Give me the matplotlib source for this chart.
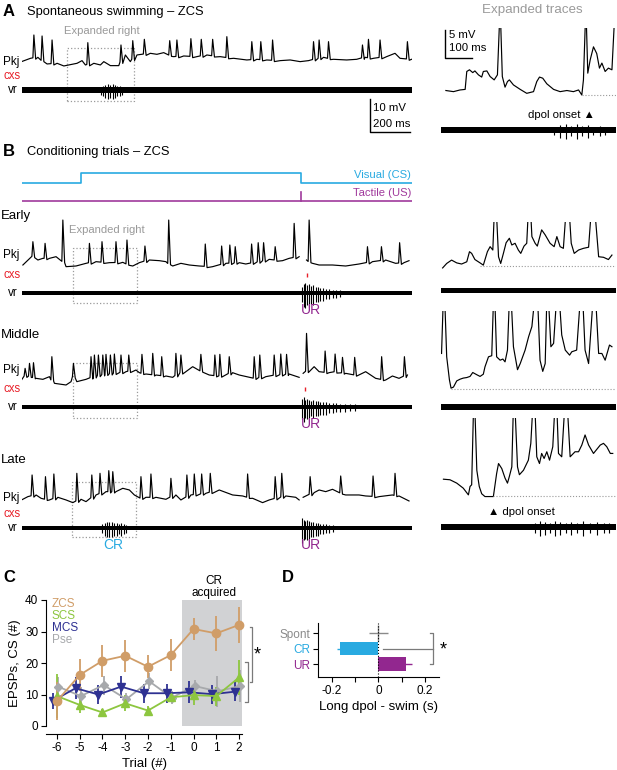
import numpy as np
import matplotlib
matplotlib.use("Agg")
import matplotlib.pyplot as plt
from matplotlib.patches import Rectangle

plt.rcParams['font.family'] = ['Liberation Sans', 'DejaVu Sans']
plt.rcParams['axes.unicode_minus'] = False

W, H = 617, 770

CYAN = '#29aae1'
PURPLE = '#92278f'
TACT = '#a0399c'
RED = '#e8202a'
GREY = '#9a9a9a'
ZCS_C = '#d09d68'
SCS_C = '#8dc63f'
MCS_C = '#2e3192'
PSE_C = '#a7a9ac'

# ---------------- traces (ms, mV) ----------------
# A: spontaneous swimming, Pkj
a_base_t = [0, 45, 82, 128, 178, 212, 278, 303, 320, 362, 395, 412, 445, 487, 520, 545, 578, 645, 678, 712,
            762, 812, 878, 928, 995, 1062, 1128, 1178, 1228, 1295, 1345, 1395, 1437, 1512, 1562, 1628, 1678,
            1720, 1762, 1828, 1870, 1895, 1953]
a_base_v = [0.5, 1.5, 1.8, -0.2, 0, -0.8, 0, 0.8, -0.5, 0, -0.5, 0.5, -0.7, -0.7, 2.5, 0.5, 2.5, 3.0, 2.7, 3.2,
            2.0, 2.2, 2.0, 2.5, 2.0, 1.5, 1.0, 1.2, 1.0, 0.8, 1.0, 0.5, 0.8, 1.8, 1.2, 1.0, 1.2,
            1.8, 1.5, 2.0, 3.0, 1.5, 1.2]
a_spk_t = [62, 103, 153, 332, 498, 557, 615, 742, 778, 848, 900, 957, 1028, 1153, 1198, 1257, 1462, 1490,
           1537, 1707, 1737, 1795, 1932]
a_spk_v = [8.5, 8.2, 7.0, 6.2, 5.5, 6.8, 7.2, 6.8, 7.0, 7.4, 7.2, 7.2, 8.0, 6.5, 6.5, 7.0, 6.5, 7.0,
           6.5, 5.5, 7.2, 7.0, 6.5]

# B: early trial
e_base_t = [7, 48, 82, 107, 140, 173, 198, 223, 273, 323, 373, 440, 507, 557, 590, 640, 690, 723, 757, 798,
            840, 890, 957, 1023, 1090, 1123, 1190, 1240, 1307, 1340, 1390,
            1427, 1457, 1490, 1557, 1623, 1690, 1757, 1823, 1873, 1915, 1940]
e_base_v = [0, 3, 1.5, 2, 2, 2.5, 2, -0.5, -0.3, 0.5, 1, 0.7, 0.8, -0.3, 0.7, 1.5, 1.3, 1, -0.3, 0.5,
            0, -0.3, -0.5, 0.5, 0.7, 0.3, 1, 1.7, 1.3, 2, 2.5,
            1.5, 0.5, 0, 0, -0.3, 0.3, 1, 1.5, 0.5, 0.7, 1.3]
e_spk_t = [57, 118, 207, 340, 403, 473, 528, 618, 737, 920, 1002, 1043, 1070, 1152, 1185, 1212, 1270, 1365,
           1440, 1732, 1802, 1893]
e_spk_v = [7, 6.5, 13.5, 6.5, 7, 7, 7.5, 5.7, 13.5, 6.3, 5.7, 6, 5.5, 6.3, 6.7, 6.7, 5.5, 12.5,
           13.5, 5.5, 5.5, 6.7]

# B: middle trial
m_base_t = [0, 23, 73, 107, 140, 165, 223, 248, 260, 277, 323, 390, 457, 523, 573, 590, 623, 673, 723, 757,
            807, 857, 890, 940, 990, 1057, 1090, 1157, 1223, 1273, 1340, 1390,
            1410, 1465, 1490, 1540, 1573, 1623, 1673, 1723, 1773, 1823, 1857, 1890, 1932]
m_base_v = [0, 1.5, 0.5, 0.2, 1.0, -1.0, -1.5, -0.5, 1.0, -0.5, 0.2, 1.5, 2.0, 2.5, 3.0, 2.2, 1.8, 1.5, 1.2, 0.8,
            2.5, 4.0, 3.0, 1.5, 1.2, 2.2, 1.5, 0.5, 1.0, 1.5, 1.8, 0.8,
            2.0, 4.0, 2.5, 2.2, 2.5, 2.0, 1.5, 2.5, 0.5, 0, 1.2, 0.5, 1.5]
m_spk_t = [18, 40, 60, 152, 260, 348, 365, 385, 407, 423, 445, 465, 498, 537, 603, 657, 702, 773, 798, 898,
           968, 993, 1040, 1165, 1193, 1265, 1298, 1327, 1427, 1520, 1570, 1607, 1668, 1803, 1917]
m_spk_v = [3.5, 5, 5.2, 7, 5, 7, 7.5, 7.5, 7.5, 7.7, 7.5, 7.8, 7.5, 7.5, 7.7, 8, 7, 8, 7.5, 7.7,
           7.5, 7.7, 7, 7, 7.5, 7.5, 7.8, 7.7, 14, 8.7, 7.8, 6.8, 6.8, 7, 7]

# B: late trial
l_base_t = [0, 32, 73, 98, 140, 182, 223, 257, 298, 323, 373, 423, 473, 507, 540, 565, 590, 623, 673, 723,
            773, 798, 848, 923, 990, 1057, 1107, 1157, 1207, 1240, 1323, 1373, 1390,
            1410, 1465, 1490, 1523, 1557, 1623, 1690, 1723, 1790, 1857, 1890, 1940]
l_base_v = [-0.5, 0.5, 1, 0, -0.5, 0.3, -0.5, -1.3, -0.3, -1, 1, 2, 2, 3, 2.5, 1, 0, 0.3, 0.3, -0.3,
            1, -0.5, 1, 1.5, 2.5, 1, 0.7, 0, -1.3, -0.5, 0.7, 0.3, -0.5,
            0.3, 1.7, 2.5, 2, 2.7, 1, 1, 0.7, 0.5, 1, 0.7, -0.8]
l_spk_t = [53, 120, 162, 277, 352, 393, 437, 457, 598, 648, 748, 828, 865, 902, 945, 1132, 1270, 1303,
           1445, 1598, 1760, 1870]
l_spk_v = [7, 6.5, 7.3, 7.5, 7, 7.5, 8.3, 8, 6.5, 7.3, 6, 7, 7.3, 7.3, 7.5, 7.3, 6.5, 7.5,
           6.5, 6.7, 6.7, 7.5]

# stimulus timing (ms)
cs_on, cs_off, us_t = 300, 1400, 1400
cxs_early, cxs_middle = 1430, 1420

# ventral root bursts (ms, relative amplitude)
vr_a_t = [400, 410, 420, 432, 444, 456, 468, 480, 492, 505]
vr_a_amp = [1.5, 2, 2.5, 3, 2.5, 3, 2.5, 2, 2, 1.5]
vr_e_t = [1403, 1412, 1421, 1430, 1440, 1450, 1461, 1472, 1484, 1496, 1510, 1524, 1540, 1557, 1575, 1595]
vr_e_amp = [3, 4.5, 5, 4, 4.5, 3.5, 4, 3, 3, 2.5, 2.5, 2, 2, 1.6, 1.5, 1.3]
vr_m_t = [1403, 1412, 1421, 1430, 1440, 1450, 1461, 1472, 1484, 1496, 1510, 1524, 1540, 1557, 1575, 1595,
          1620, 1645, 1670]
vr_m_amp = [4, 5, 3.5, 4, 3.5, 3, 3.5, 3, 3, 2.5, 2.5, 2.5, 2, 2, 1.8, 1.6, 1.5, 1.4, 1.3]
vr_l_t = [405, 417, 428, 440, 452, 464, 476, 488, 500, 512, 525,
          1403, 1412, 1421, 1430, 1440, 1450, 1461, 1472, 1484, 1496, 1510, 1524, 1540, 1560]
vr_l_amp = [1.8, 2.5, 3, 3, 3, 2.5, 2.5, 2, 2.5, 2, 1.5,
            5, 4, 3.5, 4, 3.5, 3, 3, 2.5, 2.5, 2, 2, 1.8, 1.5, 1.3]

# expanded traces (ms, mV)
xa_t = [18, 46, 70, 89, 95, 105, 117, 125, 138, 150, 156, 169, 181, 196, 208, 218, 226, 236, 245, 252,
        267, 292, 316, 341, 353, 363, 375, 390, 415, 439, 464, 488, 507, 519, 525, 534, 541, 550, 562, 574,
        584, 593, 605, 617, 630, 642]
xa_v = [0.8, 0.6, 0.9, 1.0, 4.2, 4.5, 4.0, 4.3, 3.6, 3.2, 4.2, 4.3, 3.3, 2.7, 3.6, 16, 3.3, 1.4, 2.4, 2.7,
        1.8, 1.0, 0.3, 0.6, 2.4, 3.2, 3.0, 2.0, 1.0, 0.6, 0.8, 0.6, 0.9, 0, 2.7, 16, 3.9, 6.3, 8.6, 7.4,
        4.8, 5.7, 4.2, 4.8, 4.5, 16]
xe_t = [6, 21, 39, 58, 76, 95, 105, 113, 125, 144, 156, 171, 181, 191, 200, 212, 220, 230, 240, 252,
        261, 273, 285, 294, 306, 316, 326, 335, 347, 355, 371, 384, 402, 417, 427, 439, 451, 467, 480, 491,
        507, 525, 544, 560, 581, 599, 617, 630]
xe_v = [-0.4, 0.4, 1.0, 0.5, 0.3, 0.7, 2.5, 2.2, 1.1, 0.5, 0.1, 2.5, 3.4, 2.8, 14, 1.6, 0.4, 2.2, 4.1, 4.9,
        3.7, 4.0, 2.8, 2.2, 3.5, 4.0, 14, 5.2, 4.0, 3.5, 6.4, 5.5, 4.0, 3.4, 5.2, 3.4, 3.1, 14, 4.0, 2.2,
        2.8, 3.1, 3.3, 14, 1.6, 1.5, 1.1, 1.9]
xm_t = [2, 11, 21, 31, 37, 46, 58, 70, 82, 95, 107, 117, 132, 144, 156, 162, 175, 187, 196, 205,
        218, 228, 236, 245, 255, 267, 282, 292, 310, 323, 335, 353, 365, 375, 384, 392, 405, 415, 431, 445,
        458, 474, 482, 500, 519, 531, 544, 566, 581, 593, 605, 621, 630]
xm_v = [6.4, 20, 5.8, 1.7, 0.2, 0.4, 1.5, 1.8, 2.0, 2.1, 2.3, 3.0, 2.6, 2.3, 2.7, 4.0, 5.8, 6.0, 20, 5.8,
        5.2, 5.4, 4.9, 7.0, 20, 7.6, 3.5, 4.6, 7.0, 9.4, 11.2, 20, 5.2, 3.2, 4.6, 20, 7.6, 8.2, 20, 9.7,
        7.0, 6.1, 6.7, 7.0, 20, 7.0, 4.6, 20, 6.4, 6.4, 5.2, 7.9, 7.6]
xl_t = [9, 33, 58, 82, 101, 107, 113, 122, 132, 141, 150, 162, 193, 205, 212, 224, 236, 245, 252, 261,
        269, 282, 289, 304, 322, 331, 343, 353, 363, 371, 380, 390, 400, 412, 424, 433, 445, 461, 476, 494,
        507, 519, 531, 544, 562, 572, 587, 599, 611, 624, 633]
xl_v = [3.0, 2.9, 2.3, 1.4, 0.2, 1.7, 2.0, 20, 4.6, 1.7, 0.4, -0.1, -0.1, 4.0, 5.8, 4.9, 3.2, 2.3, 3.5, 5.2,
        20, 5.2, 3.8, 4.6, 6.4, 9.4, 20, 7.0, 5.8, 7.6, 6.7, 7.9, 6.4, 8.8, 20, 7.6, 7.0, 20, 7.0, 7.9,
        7.9, 9.1, 10.9, 9.1, 7.6, 8.2, 9.1, 9.4, 8.8, 7.6, 7.6]
vr_xa_t = [415, 440, 462, 480, 500, 520, 540, 560, 585, 605]
vr_xa_amp = [1.5, 2.5, 3, 2, 3, 2, 2.5, 1.5, 2, 1.5]
vr_xl_t = [345, 365, 385, 400, 420, 440, 460, 480, 500, 525, 550, 575, 600, 620]
vr_xl_amp = [2, 3, 2.5, 2, 3, 2.5, 2, 2.5, 2, 3, 2, 2.5, 2, 2]

# ---------------- panel C / D data ----------------
trials = [-6, -5, -4, -3, -2, -1, 0, 1, 2]
zcs_mean = [7.9, 16.2, 20.7, 22.3, 18.8, 22.5, 30.8, 29.4, 32.1]
zcs_sem = [6.0, 5.0, 5.0, 5.0, 3.7, 5.0, 3.6, 5.5, 5.7]
scs_mean = [9.5, 6.7, 4.3, 7.2, 4.9, 9.1, 9.8, 9.5, 15.4]
scs_sem = [7.0, 2.5, 1.0, 2.5, 1.5, 1.5, 3.0, 3.0, 5.5]
mcs_mean = [8.0, 12.0, 10.0, 12.5, 10.4, 10.4, 10.7, 10.1, 10.9]
mcs_sem = [2.5, 3.5, 3.0, 3.5, 3.0, 3.0, 3.5, 3.0, 3.0]
pse_mean = [12.5, 9.5, 13.0, 8.5, 14.2, 9.0, 12.7, 11.0, 12.7]
pse_sem = [3.0, 3.0, 3.0, 2.0, 2.5, 2.0, 2.0, 5.0, 5.0]

d_labels = ['Spont', 'CR', 'UR']
d_mean = [0.0, -0.165, 0.118]
d_err = [0.041, 0.013, 0.025]

fig = plt.figure(figsize=(W / 100, H / 100), dpi=100)


def px_axes(x0, y0, x1, y1):
    return fig.add_axes([x0 / W, 1 - y1 / H, (x1 - x0) / W, (y1 - y0) / H])


def trace_axes(x0, x1, xlim, zero, ppu, lo, hi):
    ax = px_axes(x0, zero - hi * ppu, x1, zero - lo * ppu)
    ax.set_xlim(*xlim)
    ax.set_ylim(lo, hi)
    ax.axis('off')
    return ax


def txt(x, y, s, **kw):
    kw.setdefault('va', 'center')
    kw.setdefault('fontsize', 8.5)
    fig.text(x / W, 1 - y / H, s, **kw)


def pkj_trace(ax, base_t, base_v, spk_t, spk_v, gap=None):
    pts = [(t, v) for t, v in zip(base_t, base_v) if min(abs(t - s) for s in spk_t) > 10]
    for s, p in zip(spk_t, spk_v):
        f = np.interp(s, base_t, base_v)
        pts += [(s - 5, f), (s, p), (s + 9, f - 0.4)]
    if gap is not None:
        pts.append((gap, np.nan))
    pts.sort(key=lambda q: q[0])
    t, v = np.array(pts).T
    ax.plot(t, v, color='k', lw=0.85)


def vr_trace(x0, x1, xlim, zero, t_burst, amp_burst, cxs=None, half=0.8):
    ax = trace_axes(x0, x1, xlim, zero, 3.0, -6, 8)
    ax.fill_between(xlim, -half, half, color='k', lw=0)
    if t_burst:
        amp = np.asarray(amp_burst)
        ax.vlines(t_burst, -amp, 0.7 * amp, color='k', lw=0.8)
    if cxs is not None:
        ax.vlines([cxs], 5.3, 6.7, color=RED, lw=1.0)
    return ax


LX = (0, 1955)
XX = (0, 645)

# ---------------- panel A ----------------
txt(3, 12, 'A', fontsize=12, fontweight='bold')
txt(27, 12, 'Spontaneous swimming – ZCS', fontsize=9.3)
txt(102, 31, 'Expanded right', color=GREY, ha='center', fontsize=8.1)
txt(3, 62, 'Pkj')
txt(3, 76, 'cxs', color=RED, fontsize=8.3)
txt(8, 90, 'vr')

ax = trace_axes(21.5, 412, LX, 63.3, 3.33, -3.5, 10)
pkj_trace(ax, a_base_t, a_base_v, a_spk_t, a_spk_v)
ax.add_patch(Rectangle((230, -11.3), 335, 15.9, fill=False, ls=':', ec=GREY, lw=0.9, clip_on=False))
ax.plot([1745, 1745, 1945], [-10.6, -20.6, -20.6], color='k', lw=1.0, clip_on=False)
vr_trace(21.5, 412, LX, 90, vr_a_t, vr_a_amp, half=1.1)
txt(373, 108, '10 mV', fontsize=8.2)
txt(373, 124, '200 ms', fontsize=8.2)

txt(532, 10, 'Expanded traces', color=GREY, fontsize=9.6, ha='center')
ax = trace_axes(441, 616, XX, 95, 5.6, -1.5, 12)
ax.plot(xa_t, xa_v, color='k', lw=0.85)
ax.hlines(0, 519, 645, color=GREY, ls=':', lw=0.8)
ax.plot([15, 15, 115], [11.6, 6.6, 6.6], color='k', lw=1.0, clip_on=False)
txt(449, 35, '5 mV', fontsize=8.2)
txt(449, 48, '100 ms', fontsize=8.2)
txt(528, 115, 'dpol onset ▲', fontsize=8.2)
vr_trace(441, 616, XX, 130, vr_xa_t, vr_xa_amp, half=1.0)

# ---------------- panel B ----------------
txt(3, 152, 'B', fontsize=12, fontweight='bold')
txt(27, 152, 'Conditioning trials – ZCS', fontsize=9.3)
ax = trace_axes(21.5, 412, LX, 183, 10, -2.2, 1.8)
ax.plot([0, cs_on, cs_on, cs_off, cs_off, LX[1]], [0, 0, 1, 1, 0, 0], color=CYAN, lw=1.2)
ax.plot([0, LX[1]], [-1.8, -1.8], color=TACT, lw=1.2)
ax.plot([us_t, us_t], [-1.8, -0.9], color=TACT, lw=1.2)
txt(411, 175, 'Visual (CS)', color=CYAN, ha='right', fontsize=8.1)
txt(411, 193, 'Tactile (US)', color=TACT, ha='right', fontsize=8.1)

rows = [
    ('Early', 216, 265, 293, e_base_t, e_base_v, e_spk_t, e_spk_v, vr_e_t, vr_e_amp, cxs_early),
    ('Middle', 335, 380, 407, m_base_t, m_base_v, m_spk_t, m_spk_v, vr_m_t, vr_m_amp, cxs_middle),
    ('Late', 460, 498.3, 528, l_base_t, l_base_v, l_spk_t, l_spk_v, vr_l_t, vr_l_amp, None),
]
for name, ytitle, zero, yvr, bt, bv, st, sv, vt, va, cx in rows:
    txt(1, ytitle, name, fontsize=9.5)
    txt(3, zero - 10 if name != 'Late' else zero, 'Pkj')
    txt(3, yvr - 18 if name != 'Late' else yvr - 14, 'cxs', color=RED, fontsize=8.3)
    txt(8, yvr, 'vr')
    ax = trace_axes(21.5, 412, LX, zero, 3.33, -3.5, 15)
    pkj_trace(ax, bt, bv, st, sv, gap=1400)
    t0 = 252 if name == 'Late' else 257
    ax.add_patch(Rectangle((t0, -11.5), 320, 16.5, fill=False, ls=':', ec=GREY, lw=0.9, clip_on=False))
    vr_trace(21.5, 412, LX, yvr, vt, va, cx, half=0.8)
    txt(311, yvr + 17, 'UR', color=PURPLE, fontsize=10, ha='center')

txt(107, 230, 'Expanded right', color=GREY, ha='center', fontsize=8.1)
txt(113, 545, 'CR', color=CYAN, fontsize=10, ha='center')

ax = trace_axes(441, 616, XX, 265.7, 5.6, -1.5, 7.8)
ax.plot(xe_t, xe_v, color='k', lw=0.85)
ax.hlines(0, 144, 645, color=GREY, ls=':', lw=0.8)
vr_trace(441, 616, XX, 290.5, [], [], half=0.75)

ax = trace_axes(441, 616, XX, 389.3, 5.6, -1.5, 13.9)
ax.plot(xm_t, xm_v, color='k', lw=0.85)
ax.hlines(0, 37, 645, color=GREY, ls=':', lw=0.8)
vr_trace(441, 616, XX, 407, [], [], half=0.85)

ax = trace_axes(441, 616, XX, 496, 5.6, -1.5, 13.9)
ax.plot(xl_t, xl_v, color='k', lw=0.85)
ax.hlines(0, 193, 645, color=GREY, ls=':', lw=0.8)
txt(488, 512, '▲ dpol onset', fontsize=8.2)
vr_trace(441, 616, XX, 527, vr_xl_t, vr_xl_amp, half=1.0)

# ---------------- panel C ----------------
txt(3, 578, 'C', fontsize=12, fontweight='bold')
txt(282, 578, 'D', fontsize=12, fontweight='bold')
txt(214, 587, 'CR\nacquired', ha='center', fontsize=8.5, linespacing=0.95)

axc = px_axes(46, 600, 242, 726)
axc.axvspan(-0.5, 2.13, color='#d1d2d4', lw=0, zorder=0)
series = [
    ('Pse', pse_mean, pse_sem, PSE_C, 'D', 0.05, 4.5),
    ('MCS', mcs_mean, mcs_sem, MCS_C, 'v', -0.18, 5.5),
    ('SCS', scs_mean, scs_sem, SCS_C, '^', 0.0, 5.5),
    ('ZCS', zcs_mean, zcs_sem, ZCS_C, 'o', 0.0, 6),
]
for name, m, e, c, mk, dx, ms in series:
    axc.errorbar(np.array(trials) + dx, m, yerr=e, color=c, marker=mk, ms=ms, lw=1.3,
                 elinewidth=1.3, capsize=0, clip_on=False, zorder=3)
axc.set_xlim(-6.48, 2.13)
axc.set_ylim(0, 40)
axc.set_xticks(trials)
axc.set_yticks([0, 10, 20, 30, 40])
axc.spines[['top', 'right']].set_visible(False)
axc.spines['bottom'].set_position(('outward', 6))
axc.tick_params(length=3.5, width=0.8, labelsize=8.5, pad=2)
axc.set_xlabel('Trial (#)', fontsize=9.5, labelpad=3)
axc.set_ylabel('EPSPs, CS (#)', fontsize=9.5, labelpad=3)
for i, (name, c) in enumerate([('ZCS', ZCS_C), ('SCS', SCS_C), ('MCS', MCS_C), ('Pse', PSE_C)]):
    axc.text(0.03, 0.97 - i * 0.095, name, color=c, fontsize=8.5, transform=axc.transAxes, va='center')
bk = dict(color='#7a7a7a', lw=0.9, clip_on=False)
axc.plot([2.46, 2.58, 2.58, 2.46], [31.3, 31.3, 13.9, 13.9], **bk)
axc.plot([2.26, 2.41, 2.41, 2.26], [20.2, 20.2, 7.5, 7.5], **bk)
axc.text(2.8, 22.5, '*', fontsize=13, ha='center', va='center', clip_on=False)

# ---------------- panel D ----------------
axd = px_axes(318, 623, 439, 677)
ypos = [0, 1, 2]
dcol = ['#8a8a8a', CYAN, PURPLE]
axd.errorbar(d_mean[1:], ypos[1:], xerr=d_err[1:], fmt='none', ecolor=dcol[1:], elinewidth=1.0, capsize=0, zorder=1)
axd.barh(ypos[1:], d_mean[1:], height=0.9, color=dcol[1:], zorder=2)
axd.errorbar(d_mean[:1], ypos[:1], xerr=d_err[:1], fmt='|', color=dcol[0], ms=11, elinewidth=1.0,
             capsize=0, zorder=3)
axd.axvline(0, color='k', ls=':', lw=0.8, zorder=4)
axd.set_xlim(-0.26, 0.26)
axd.set_ylim(2.84, -0.65)
axd.set_yticks(ypos)
axd.set_yticklabels(d_labels)
for lab, c in zip(axd.get_yticklabels(), dcol):
    lab.set_color(c)
axd.set_xticks([-0.2, -0.1, 0, 0.1, 0.2])
axd.set_xticklabels(['-0.2', '', '0', '', '0.2'])
axd.spines[['top', 'right']].set_visible(False)
axd.tick_params(length=3.5, width=0.8, labelsize=8.5, pad=2)
axd.set_xlabel('Long dpol - swim (s)', fontsize=9.5, labelpad=3)
bk = dict(color='#7a7a7a', lw=0.9, clip_on=False)
axd.plot([0.221, 0.236, 0.236, 0.221], [0, 0, 2, 2], **bk)
axd.plot([0.019, 0.236], [1, 1], **bk)
axd.text(0.278, 1.1, '*', fontsize=13, ha='center', va='center', clip_on=False)

fig.savefig('out.png', dpi=100)
